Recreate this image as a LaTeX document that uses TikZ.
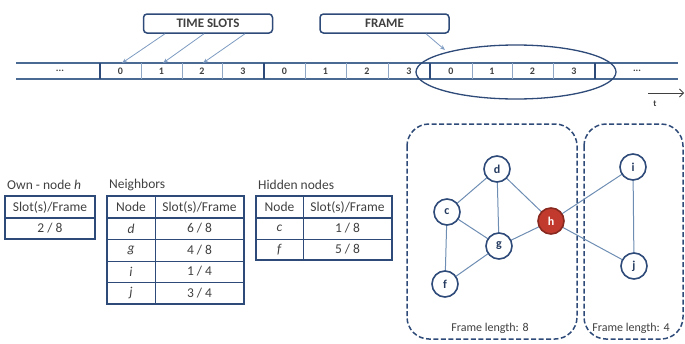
\documentclass[tikz,border=0pt]{standalone}
\usepackage{fontspec}
\setmainfont{Carlito}
\usetikzlibrary{arrows.meta,shapes.geometric}
\definecolor{dkblue}{HTML}{2E4A78}
\definecolor{tlblue}{HTML}{4A6A94}
\definecolor{thinblue}{HTML}{8FA6C4}
\definecolor{edgec}{HTML}{6E8DB3}
\definecolor{arrowc}{HTML}{7E9BC2}
\definecolor{hred}{HTML}{C23A2E}
\definecolor{txt}{HTML}{404040}
\tikzset{
  tline/.style={draw=tlblue, line width=1.4pt},
  thickdiv/.style={draw=dkblue, line width=1.6pt},
  thindiv/.style={draw=thinblue, line width=0.7pt},
  digit/.style={font=\fontsize{10}{11}\selectfont\bfseries, text=txt, inner sep=0pt},
  labelbox/.style={draw=dkblue, line width=1.5pt, rounded corners=3.5pt, fill=white,
     minimum width=129pt, minimum height=19pt, inner sep=0pt,
     font=\fontsize{13}{14}\selectfont\bfseries, text=txt},
  pointer/.style={draw=arrowc, line width=0.8pt, -{Stealth[length=5pt,width=4pt]}},
  tframe/.style={draw=dkblue, line width=1.6pt},
  tinner/.style={draw=dkblue, line width=0.8pt},
  cell/.style={font=\fontsize{13.5}{15}\selectfont, text=txt, inner sep=0pt},
  tlabel/.style={font=\fontsize{13.5}{15}\selectfont, text=txt, inner sep=0pt, anchor=west},
  gnode/.style={circle, draw=dkblue, line width=1.6pt, fill=white, minimum size=26pt,
     inner sep=0pt, font=\fontsize{12}{13}\selectfont\bfseries, text=dkblue!80!black},
  hnode/.style={gnode, fill=hred, draw=hred!70!black, text=white},
  gedge/.style={draw=edgec, line width=1pt},
  dbox/.style={draw=dkblue, line width=1.5pt, dash pattern=on 5pt off 2.5pt, rounded corners=22pt},
  flabel/.style={font=\fontsize{12}{13}\selectfont, text=txt, inner sep=0pt}
}
\begin{document}
\begin{tikzpicture}[x=1pt,y=-1pt]
\useasboundingbox (0,0) rectangle (685,343);
% ---- timeline ----
\draw[tline] (16,63) -- (678,63);
\draw[tline] (16,79) -- (678,79);
\foreach \x in {100,264,430,595} \draw[thickdiv] (\x,63) -- (\x,79);
\foreach \x in {141,182,222,305,346,388,472,512,553} \draw[thindiv] (\x,63) -- (\x,79);
\node[digit] (dl) at (60,71) {...};
\node[digit] (dr) at (637,71) {...};
\foreach \x/\d [count=\i] in {120.5/0,161.5/1,202/2,243/3,284.5/0,325.5/1,367/2,409/3,451/0,492/1,532.5/2,574/3}
  \node[digit] (n\i) at (\x,71) {\d};
\node[draw=dkblue, line width=1.3pt, ellipse, minimum width=200pt, minimum height=54pt] (fr) at (516,72) {};
% ---- labels ----
\node[labelbox] (ts) at (208,23.5) {TIME SLOTS};
\node[labelbox] (fm) at (384.5,23.5) {FRAME};
\coordinate (s0) at (122,63);
\coordinate (s1) at (163,63);
\coordinate (s2) at (203,63);
\coordinate (fe) at (445,50);
\draw[pointer] ([xshift=-43pt]ts.south) -- (s0);
\draw[pointer] ([xshift=-4pt]ts.south) -- (s1);
\draw[pointer] ([xshift=37pt]ts.south) -- (s2);
\draw[pointer] ([xshift=41.5pt]fm.south) -- (fe);
\coordinate (t0) at (648,93);
\coordinate (t1) at (684,93);
\draw[draw=txt, line width=0.8pt, -{Straight Barb[length=4pt]}] (t0) -- (t1);
\node[font=\fontsize{9}{10}\selectfont\bfseries, text=txt] (tl) at (655,104) {t};
% ---- own node table ----
\node[tlabel] (l1) at (7,185) {Own - node \textit{h}};
\draw[tframe] (5,196) rectangle (95,239);
\draw[tframe] (5,218) -- (95,218);
\node[cell] (o1) at (50,207) {Slot(s)/Frame};
\node[cell] (o2) at (50,228.5) {2 / 8};
% ---- neighbors table ----
\node[tlabel] (l2) at (109,185) {Neighbors};
\draw[tinner] (155,196) -- (155,304);
\foreach \y in {239.5,261,282.5} \draw[tinner] (107,\y) -- (244,\y);
\draw[tframe] (107,218) -- (244,218);
\draw[tframe] (107,196) rectangle (244,304);
\node[cell] (nh1) at (131,207) {Node};
\node[cell] (nh2) at (199.5,207) {Slot(s)/Frame};
\foreach \y/\a/\b [count=\i] in {228.5/d/{6 / 8},250/g/{4 / 8},271.5/i/{1 / 4},293/j/{3 / 4}}{
  \node[cell] (na\i) at (131,\y) {\textit{\a}};
  \node[cell] (nb\i) at (199.5,\y) {\b};
}
% ---- hidden table ----
\node[tlabel] (l3) at (258,185) {Hidden nodes};
\draw[tinner] (303,196) -- (303,260);
\draw[tinner] (256,239) -- (392,239);
\draw[tframe] (256,218) -- (392,218);
\draw[tframe] (256,196) rectangle (392,260);
\node[cell] (hh1) at (279.5,207) {Node};
\node[cell] (hh2) at (347.5,207) {Slot(s)/Frame};
\node[cell] (ha1) at (279.5,228.5) {\textit{c}};
\node[cell] (hb1) at (347.5,228.5) {1 / 8};
\node[cell] (ha2) at (279.5,249.5) {\textit{f}};
\node[cell] (hb2) at (347.5,249.5) {5 / 8};
% ---- graph ----
\draw[dbox] (407,124) rectangle (577,339);
\draw[dbox] (584,124) rectangle (683,339);
\node[flabel] (f8) at (490,328) {Frame length: 8};
\node[flabel] (f4) at (631,328) {Frame length: 4};
\coordinate (pd) at (497,169);
\coordinate (pc) at (447,212);
\coordinate (pg) at (499,246);
\coordinate (pf) at (445,284);
\coordinate (ph) at (551,221);
\coordinate (pi) at (633,167);
\coordinate (pj) at (634,266);
\foreach \a/\b in {c/d,d/g,d/h,c/g,c/f,f/g,g/h,h/i,h/j,i/j}
  \draw[gedge] (p\a) -- (p\b);
\node[gnode] (d) at (pd) {d};
\node[gnode] (c) at (pc) {c};
\node[gnode] (g) at (pg) {g};
\node[gnode] (f) at (pf) {f};
\node[hnode] (h) at (ph) {h};
\node[gnode] (i) at (pi) {i};
\node[gnode] (j) at (pj) {j};
\end{tikzpicture}
\end{document}
